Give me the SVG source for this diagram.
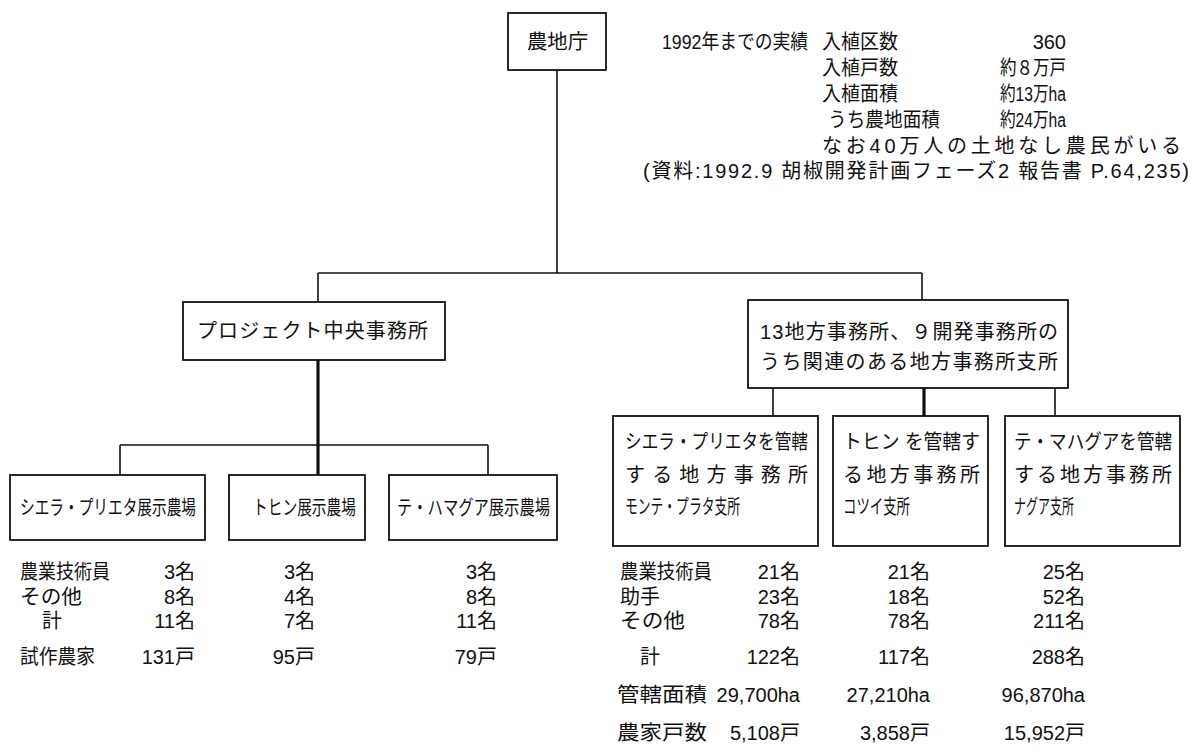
<svg xmlns="http://www.w3.org/2000/svg" width="1194" height="750" viewBox="0 0 1194 750">
<style>
.t{font-family:"Liberation Sans","Noto Sans CJK JP",sans-serif;font-size:20px;fill:#111}
.e{text-anchor:end}
.box{fill:#fff;stroke:#111;stroke-width:1.8}
.ln{fill:none;stroke:#111;stroke-width:1.6}
.tk{fill:none;stroke:#111;stroke-width:3.2}
</style>
<rect width="1194" height="750" fill="#fff"/>
<g id="connectors">
<path class="ln" d="M557 70V273M318 273H922M318 273V302M922 273V300"/>
<path class="tk" d="M318 360V475"/>
<path class="ln" d="M120 445H488M120 445V475M488 445V475"/>
<path class="ln" d="M773 388V416M1055 388V416"/>
<path class="tk" d="M924 388V416"/>
</g>
<g id="node-nouchicho">
<rect class="box" x="508" y="13" width="98" height="57"/>
<text class="t" x="527" y="49" textLength="61" lengthAdjust="spacingAndGlyphs">農地庁</text>
</g>
<g id="summary">
<text class="t" x="662" y="49" textLength="146" lengthAdjust="spacingAndGlyphs">1992年までの実績</text>
<text class="t" x="822" y="49" textLength="76" lengthAdjust="spacingAndGlyphs">入植区数</text>
<text class="t e" x="1066" y="49">360</text>
<text class="t" x="822" y="75" textLength="76" lengthAdjust="spacingAndGlyphs">入植戸数</text>
<text class="t" x="1000" y="75" textLength="66" lengthAdjust="spacingAndGlyphs">約８万戸</text>
<text class="t" x="822" y="101" textLength="76" lengthAdjust="spacingAndGlyphs">入植面積</text>
<text class="t" x="1000" y="101" textLength="66" lengthAdjust="spacingAndGlyphs">約13万ha</text>
<text class="t" x="828" y="127" textLength="112" lengthAdjust="spacingAndGlyphs">うち農地面積</text>
<text class="t" x="1000" y="127" textLength="66" lengthAdjust="spacingAndGlyphs">約24万ha</text>
<text class="t" x="822" y="153" textLength="359" lengthAdjust="spacing">なお40万人の土地なし農民がいる</text>
<text class="t" x="643" y="178" textLength="546" lengthAdjust="spacing">(資料:1992.9 胡椒開発計画フェーズ2 報告書 P.64,235)</text>
</g>
<g id="node-project">
<rect class="box" x="183" y="302" width="262" height="58"/>
<text class="t" x="197" y="338" textLength="231" lengthAdjust="spacing">プロジェクト中央事務所</text>
</g>
<g id="node-regional">
<rect class="box" x="748" y="300" width="320" height="88"/>
<text class="t" x="760" y="339" textLength="298" lengthAdjust="spacing">13地方事務所、９開発事務所の</text>
<text class="t" x="760" y="369" textLength="298" lengthAdjust="spacing">うち関連のある地方事務所支所</text>
</g>
<g id="node-farm1">
<rect class="box" x="10" y="475" width="195" height="65"/>
<text class="t" x="20" y="515" textLength="176" lengthAdjust="spacingAndGlyphs">シエラ・プリエタ展示農場</text>
</g>
<g id="node-farm2">
<rect class="box" x="229" y="475" width="136" height="65"/>
<text class="t" x="253" y="515" textLength="103" lengthAdjust="spacingAndGlyphs">トヒン展示農場</text>
</g>
<g id="node-farm3">
<rect class="box" x="389" y="475" width="168" height="65"/>
<text class="t" x="397" y="515" textLength="153" lengthAdjust="spacingAndGlyphs">テ・ハマグア展示農場</text>
</g>
<g id="node-branch1">
<rect class="box" x="613" y="416" width="205" height="130"/>
<text class="t" x="625" y="449" textLength="183" lengthAdjust="spacingAndGlyphs">シエラ・プリエタを管轄</text>
<text class="t" x="625" y="482" textLength="183" lengthAdjust="spacing">する地方事務所</text>
<text class="t" x="625" y="514" textLength="115" lengthAdjust="spacingAndGlyphs">モンテ・プラタ支所</text>
</g>
<g id="node-branch2">
<rect class="box" x="833" y="416" width="155" height="130"/>
<text class="t" x="843" y="449" textLength="137" lengthAdjust="spacingAndGlyphs">トヒン を管轄す</text>
<text class="t" x="843" y="482" textLength="137" lengthAdjust="spacing">る地方事務所</text>
<text class="t" x="843" y="514" textLength="67" lengthAdjust="spacingAndGlyphs">コツイ支所</text>
</g>
<g id="node-branch3">
<rect class="box" x="1005" y="416" width="175" height="130"/>
<text class="t" x="1014" y="449" textLength="158" lengthAdjust="spacingAndGlyphs">テ・マハグアを管轄</text>
<text class="t" x="1014" y="482" textLength="158" lengthAdjust="spacing">する地方事務所</text>
<text class="t" x="1014" y="514" textLength="60" lengthAdjust="spacingAndGlyphs">ナグア支所</text>
</g>
<g id="farm-data">
<text class="t" x="20" y="579" textLength="90" lengthAdjust="spacingAndGlyphs">農業技術員</text>
<text class="t" x="20" y="604" textLength="62" lengthAdjust="spacingAndGlyphs">その他</text>
<text class="t" x="42" y="628">計</text>
<text class="t" x="20" y="664" textLength="75" lengthAdjust="spacingAndGlyphs">試作農家</text>
<text class="t e" x="195" y="579">3名</text>
<text class="t e" x="195" y="604">8名</text>
<text class="t e" x="195" y="628">11名</text>
<text class="t e" x="195" y="664">131戸</text>
<text class="t e" x="315" y="579">3名</text>
<text class="t e" x="315" y="604">4名</text>
<text class="t e" x="315" y="628">7名</text>
<text class="t e" x="315" y="664">95戸</text>
<text class="t e" x="497" y="579">3名</text>
<text class="t e" x="497" y="604">8名</text>
<text class="t e" x="497" y="628">11名</text>
<text class="t e" x="497" y="664">79戸</text>
</g>
<g id="branch-data">
<text class="t" x="620" y="579" textLength="92" lengthAdjust="spacingAndGlyphs">農業技術員</text>
<text class="t" x="620" y="604" textLength="40" lengthAdjust="spacingAndGlyphs">助手</text>
<text class="t" x="620" y="628" textLength="65" lengthAdjust="spacingAndGlyphs">その他</text>
<text class="t" x="640" y="664">計</text>
<text class="t" x="617" y="702" textLength="90" lengthAdjust="spacingAndGlyphs">管轄面積</text>
<text class="t" x="617" y="740" textLength="90" lengthAdjust="spacingAndGlyphs">農家戸数</text>
<text class="t e" x="800" y="579">21名</text>
<text class="t e" x="800" y="604">23名</text>
<text class="t e" x="800" y="628">78名</text>
<text class="t e" x="800" y="664">122名</text>
<text class="t e" x="800" y="702">29,700ha</text>
<text class="t e" x="800" y="740">5,108戸</text>
<text class="t e" x="930" y="579">21名</text>
<text class="t e" x="930" y="604">18名</text>
<text class="t e" x="930" y="628">78名</text>
<text class="t e" x="930" y="664">117名</text>
<text class="t e" x="930" y="702">27,210ha</text>
<text class="t e" x="930" y="740">3,858戸</text>
<text class="t e" x="1085" y="579">25名</text>
<text class="t e" x="1085" y="604">52名</text>
<text class="t e" x="1085" y="628">211名</text>
<text class="t e" x="1085" y="664">288名</text>
<text class="t e" x="1085" y="702">96,870ha</text>
<text class="t e" x="1085" y="740">15,952戸</text>
</g>
</svg>
